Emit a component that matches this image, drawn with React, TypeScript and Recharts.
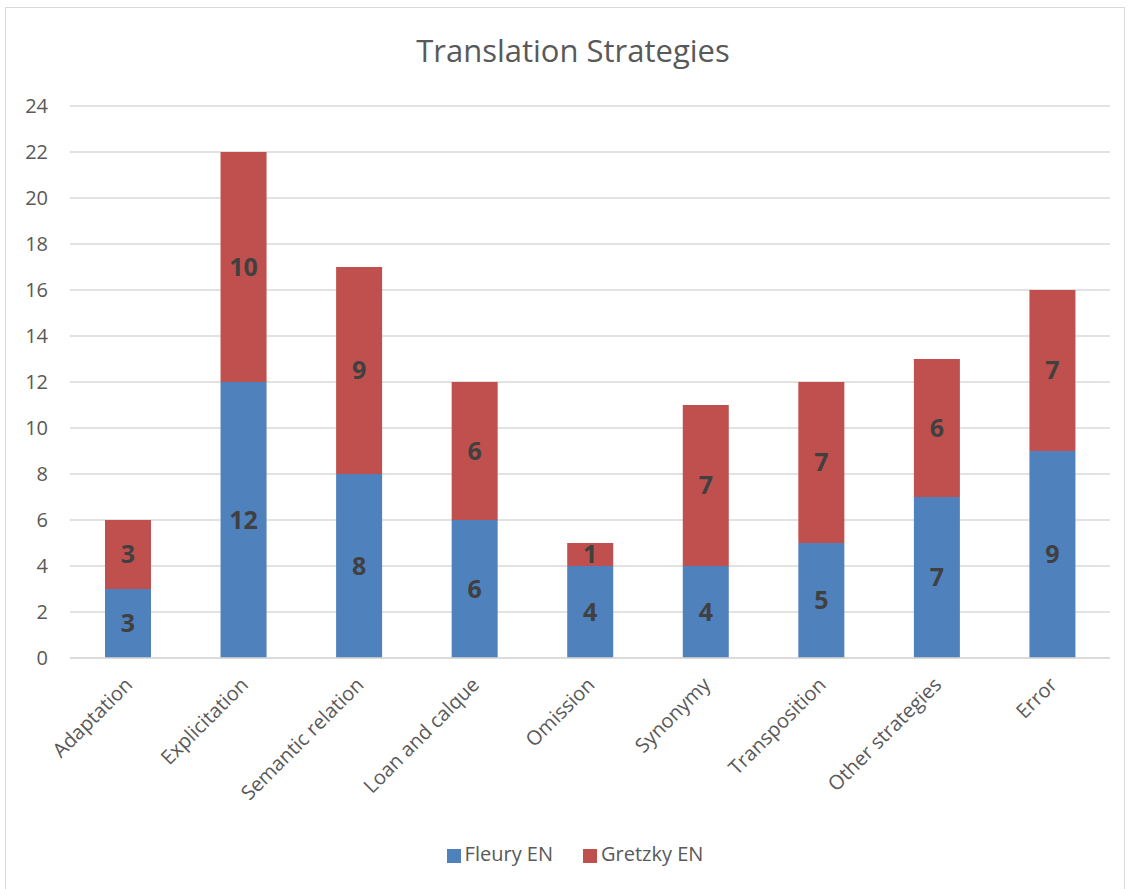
import React from 'react';
import { BarChart, Bar, XAxis, YAxis, CartesianGrid, Legend, LabelList } from 'recharts';

const categories = [
  'Adaptation',
  'Explicitation',
  'Semantic relation',
  'Loan and calque',
  'Omission',
  'Synonymy',
  'Transposition',
  'Other strategies',
  'Error',
];
const fleury = [3, 12, 8, 6, 4, 4, 5, 7, 9];
const gretzky = [3, 10, 9, 6, 1, 7, 7, 6, 7];
const yTicks = [0, 2, 4, 6, 8, 10, 12, 14, 16, 18, 20, 22, 24];

const data = categories.map((name, i) => ({ name, fleury: fleury[i], gretzky: gretzky[i] }));

const FONT = '"Open Sans", "Liberation Sans", sans-serif';
const TEXT = '#595959';

const AngledTick = (props: any) => {
  const { x, y, payload } = props;
  return (
    <g transform={`translate(${x + 6},${y + 20})`}>
      <text
        textAnchor="end"
        transform="rotate(-45)"
        fill={TEXT}
        fontSize={20}
        fontFamily={FONT}
      >
        {payload.value}
      </text>
    </g>
  );
};

const App = () => {
  return (
    <div style={{ position: 'absolute', left: 0, top: 0, width: 1132, height: 889, background: '#fff' }}>
      <div
        style={{
          position: 'absolute',
          left: 5,
          top: 7,
          width: 1120,
          height: 900,
          border: '1.5px solid #d9d9d9',
          boxSizing: 'border-box',
        }}
      />
      <div
        style={{
          position: 'absolute',
          top: 29,
          left: 0,
          width: 1146,
          textAlign: 'center',
          fontFamily: FONT,
          fontSize: 31,
          color: TEXT,
        }}
      >
        Translation Strategies
      </div>
      <BarChart
        width={1132}
        height={889}
        data={data}
        margin={{ top: 106, right: 22, left: 0, bottom: 54 }}
        style={{ position: 'absolute', left: 0, top: 0, fontFamily: FONT }}
      >
        <CartesianGrid vertical={false} stroke="#d9d9d9" strokeWidth={1.5} />
        <XAxis
          dataKey="name"
          height={150}
          interval={0}
          tick={<AngledTick />}
          tickLine={false}
          axisLine={{ stroke: '#d9d9d9', strokeWidth: 1.5 }}
        />
        <YAxis
          width={70}
          domain={[0, 24]}
          ticks={yTicks}
          interval={0}
          tickLine={false}
          axisLine={false}
          tick={{ fill: TEXT, fontSize: 20, fontFamily: FONT, dx: -14 }}
        />
        <Legend
          verticalAlign="bottom"
          iconType="square"
          iconSize={14}
          wrapperStyle={{ top: 840, left: 17, width: 1146, fontSize: 20, fontFamily: FONT }}
          formatter={(v: string) => <span style={{ color: TEXT, marginRight: 20 }}>{v}</span>}
        />
        <Bar dataKey="fleury" name="Fleury EN" stackId="a" fill="#4F81BD" barSize={46} isAnimationActive={false}>
          <LabelList dataKey="fleury" position="center" fill="#404040" fontSize={25} fontWeight="bold" fontFamily={FONT} />
        </Bar>
        <Bar dataKey="gretzky" name="Gretzky EN" stackId="a" fill="#C0504D" barSize={46} isAnimationActive={false}>
          <LabelList dataKey="gretzky" position="center" fill="#404040" fontSize={25} fontWeight="bold" fontFamily={FONT} />
        </Bar>
      </BarChart>
    </div>
  );
};

export default App;
